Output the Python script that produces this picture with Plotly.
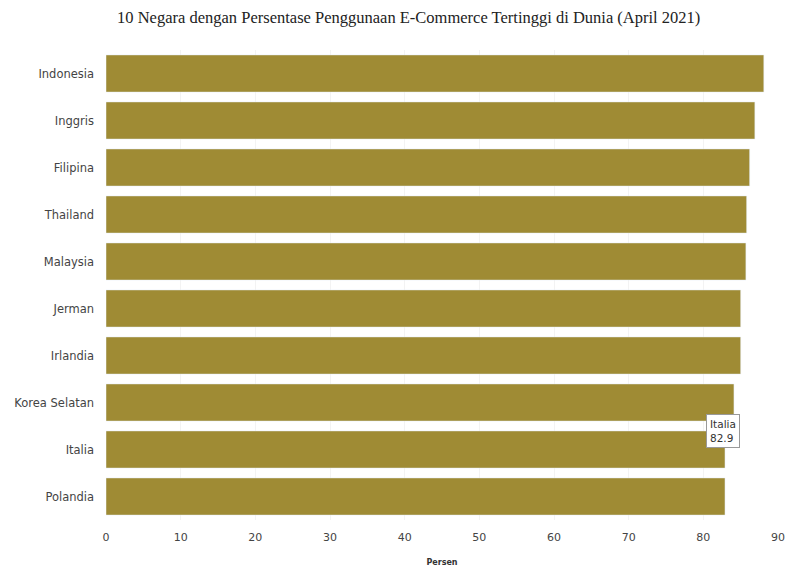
import plotly.graph_objects as go

countries = ["Indonesia", "Inggris", "Filipina", "Thailand", "Malaysia",
             "Jerman", "Irlandia", "Korea Selatan", "Italia", "Polandia"]
values = [88.1, 86.9, 86.2, 85.8, 85.7, 85.0, 85.0, 84.1, 82.9, 82.9]
x_ticks = [0, 10, 20, 30, 40, 50, 60, 70, 80, 90]

fig = go.Figure()
fig.add_trace(go.Bar(
    x=values, y=countries, orientation="h",
    marker=dict(color="#9f8b34"),
    hovertemplate="%{y}<br>%{x}<extra></extra>",
))

fig.add_annotation(
    x=82.9, y="Italia", xref="x", yref="y",
    text="Italia<br>82.9", showarrow=False, align="left",
    xanchor="center", yanchor="middle", yshift=19, xshift=-2,
    font=dict(family="DejaVu Sans", size=10.5, color="#333"),
    bgcolor="white", bordercolor="#999", borderwidth=1, borderpad=3,
)

fig.update_layout(
    width=789, height=570,
    margin=dict(l=106, r=11, t=50, b=50, autoexpand=False),
    paper_bgcolor="white", plot_bgcolor="white",
    bargap=0.21,
    showlegend=False,
    title=dict(
        text="10 Negara dengan Persentase Penggunaan E-Commerce Tertinggi di Dunia (April 2021)",
        x=0.518, xanchor="center", y=0.97, yanchor="middle",
        font=dict(family="Liberation Serif", size=16.5, color="#222"),
    ),
    xaxis=dict(
        range=[0, 90], tickvals=x_ticks, automargin=False,
        showgrid=True, gridcolor="#f3f3f3", zeroline=False,
        ticks="outside", ticklen=7, tickcolor="rgba(0,0,0,0)",
        tickfont=dict(family="DejaVu Sans", size=11, color="#444"),
        title=dict(text="<b>Persen</b>", font=dict(family="DejaVu Sans", size=8, color="#333"), standoff=16),
    ),
    yaxis=dict(
        autorange="reversed", categoryorder="array", categoryarray=countries,
        showgrid=False, ticksuffix="   ", automargin=False,
        tickfont=dict(family="DejaVu Sans", size=11.5, color="#444"),
    ),
)

fig.write_html("out.html")
